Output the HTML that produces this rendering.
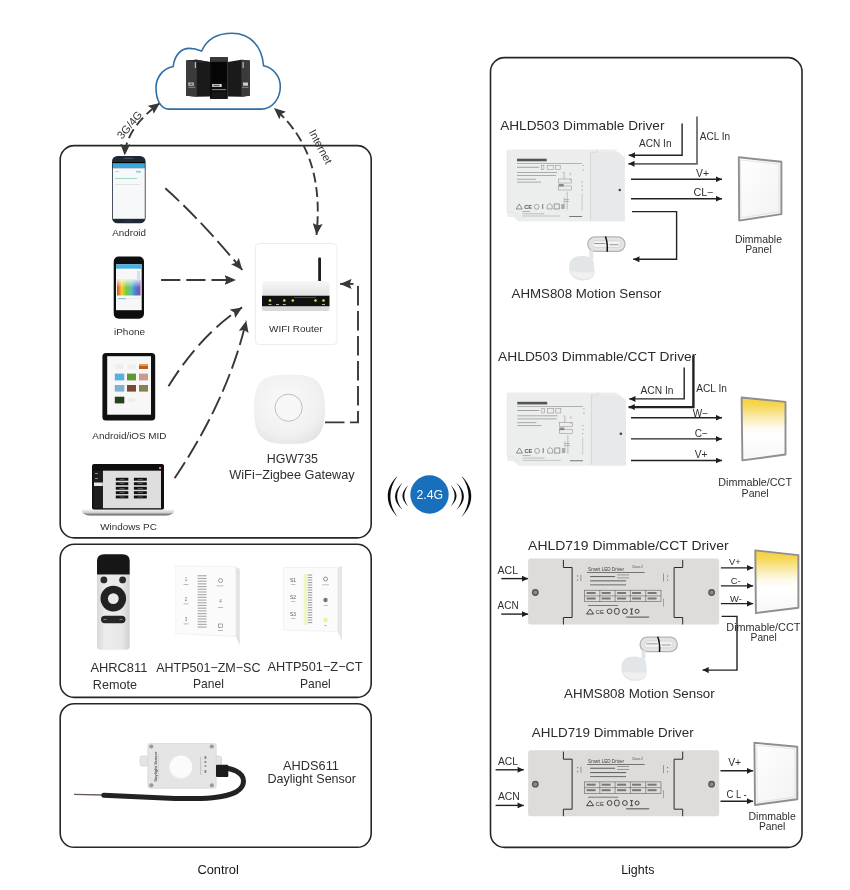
<!DOCTYPE html>
<html><head><meta charset="utf-8">
<style>
html,body{margin:0;padding:0;background:#fff;width:850px;height:890px;overflow:hidden}
#wrap{will-change:transform}
svg{display:block;font-family:"Liberation Sans",sans-serif}
</style></head><body><div id="wrap">
<svg width="850" height="890" viewBox="0 0 850 890">
<defs>
  <marker id="ah" markerUnits="userSpaceOnUse" markerWidth="11.5" markerHeight="10" refX="11.5" refY="5" orient="auto-start-reverse" viewBox="0 0 11.5 10">
    <path d="M0,0 L11.5,5 L0,10 L2,5 Z" fill="#383838"/>
  </marker>
  <marker id="as" markerUnits="userSpaceOnUse" markerWidth="6.4" markerHeight="6" refX="6.4" refY="3" orient="auto" viewBox="0 0 6.4 6">
    <path d="M0,0 L6.4,3 L0,6 L0.4,3 Z" fill="#1e1e1e"/>
  </marker>
</defs>

<!-- BOXES -->
<g fill="none" stroke="#262626" stroke-width="1.6">
  <rect x="60.2" y="145.6" width="311" height="392.3" rx="14"/>
  <rect x="60.2" y="544.2" width="311" height="153.2" rx="14"/>
  <rect x="60.2" y="703.8" width="311" height="143.5" rx="14"/>
  <rect x="490.5" y="57.6" width="311.5" height="789.8" rx="14"/>
</g>

<!-- SECTION LABELS -->
<g fill="#151515" font-size="13.4">
  <text x="197.4" y="873.5" textLength="41.4" lengthAdjust="spacingAndGlyphs">Control</text>
  <text x="621.2" y="873.5" textLength="33.2" lengthAdjust="spacingAndGlyphs">Lights</text>
</g>

<!-- LEFT TEXT -->
<g fill="#2e2e2e" font-size="9.4">
  <text x="112.2" y="235.8" textLength="33.8" lengthAdjust="spacingAndGlyphs">Android</text>
  <text x="114" y="335.3" textLength="31" lengthAdjust="spacingAndGlyphs">iPhone</text>
  <text x="92.3" y="439" textLength="74.2" lengthAdjust="spacingAndGlyphs">Android/iOS MID</text>
  <text x="100.2" y="529.5" textLength="56.6" lengthAdjust="spacingAndGlyphs">Windows PC</text>
  <text x="269" y="331.7" textLength="53.6" lengthAdjust="spacingAndGlyphs">WIFI Router</text>
</g>
<g fill="#2e2e2e" font-size="12.6">
  <text x="266.8" y="462.7" textLength="51.2" lengthAdjust="spacingAndGlyphs">HGW735</text>
  <text x="229.3" y="479.3" textLength="125.4" lengthAdjust="spacingAndGlyphs">WiFi−Zigbee Gateway</text>
  <text x="90.4" y="671.6" textLength="57" lengthAdjust="spacingAndGlyphs">AHRC811</text>
  <text x="92.8" y="688.6" textLength="44.1" lengthAdjust="spacingAndGlyphs">Remote</text>
  <text x="156.2" y="671.6" textLength="104.3" lengthAdjust="spacingAndGlyphs">AHTP501−ZM−SC</text>
  <text x="193" y="688" textLength="31" lengthAdjust="spacingAndGlyphs">Panel</text>
  <text x="267.6" y="671.4" textLength="95" lengthAdjust="spacingAndGlyphs">AHTP501−Z−CT</text>
  <text x="300" y="687.6" textLength="30.8" lengthAdjust="spacingAndGlyphs">Panel</text>
  <text x="283" y="769.7" textLength="56" lengthAdjust="spacingAndGlyphs">AHDS611</text>
  <text x="267.5" y="783.4" textLength="88.5" lengthAdjust="spacingAndGlyphs">Daylight Sensor</text>
</g>

<!-- RIGHT TEXT -->
<g fill="#2b2b2b" font-size="13">
  <text x="500.2" y="129.8" textLength="164.3" lengthAdjust="spacingAndGlyphs">AHLD503 Dimmable Driver</text>
  <text x="511.6" y="297.7" textLength="149.8" lengthAdjust="spacingAndGlyphs">AHMS808 Motion Sensor</text>
  <text x="498.1" y="360.7" textLength="198.2" lengthAdjust="spacingAndGlyphs">AHLD503 Dimmable/CCT Driver</text>
  <text x="528.1" y="549.8" textLength="200.5" lengthAdjust="spacingAndGlyphs">AHLD719 Dimmable/CCT Driver</text>
  <text x="564.1" y="698.4" textLength="150.6" lengthAdjust="spacingAndGlyphs">AHMS808 Motion Sensor</text>
  <text x="531.8" y="737" textLength="162" lengthAdjust="spacingAndGlyphs">AHLD719 Dimmable Driver</text>
</g>
<g fill="#2e2e2e" font-size="10">
  <text x="639" y="146.7" textLength="32.5" lengthAdjust="spacingAndGlyphs">ACN In</text>
  <text x="699.8" y="139.6" textLength="30.3" lengthAdjust="spacingAndGlyphs">ACL In</text>
  <text x="696" y="177.2" textLength="13" lengthAdjust="spacingAndGlyphs">V+</text>
  <text x="693.4" y="195.8" textLength="20.1" lengthAdjust="spacingAndGlyphs">CL−</text>
  <text x="734.9" y="242.5" textLength="47.1" lengthAdjust="spacingAndGlyphs">Dimmable</text>
  <text x="745.2" y="252.7" textLength="26.5" lengthAdjust="spacingAndGlyphs">Panel</text>

  <text x="640.5" y="393.7" textLength="32.9" lengthAdjust="spacingAndGlyphs">ACN In</text>
  <text x="696.2" y="391.9" textLength="30.8" lengthAdjust="spacingAndGlyphs">ACL In</text>
  <text x="692.7" y="417" textLength="15.3" lengthAdjust="spacingAndGlyphs">W−</text>
  <text x="694.8" y="436.8" textLength="13.2" lengthAdjust="spacingAndGlyphs">C−</text>
  <text x="694.8" y="458" textLength="12.7" lengthAdjust="spacingAndGlyphs">V+</text>
  <text x="718.3" y="486.4" textLength="73.7" lengthAdjust="spacingAndGlyphs">Dimmable/CCT</text>
  <text x="741.6" y="496.6" textLength="27.1" lengthAdjust="spacingAndGlyphs">Panel</text>

  <text x="729.1" y="565.4" font-size="8.8" textLength="11.7" lengthAdjust="spacingAndGlyphs">V+</text>
  <text x="730.7" y="584" font-size="8.8" textLength="9.8" lengthAdjust="spacingAndGlyphs">C-</text>
  <text x="730" y="601.6" font-size="8.8" textLength="11.8" lengthAdjust="spacingAndGlyphs">W-</text>
  <text x="726.3" y="631.3" textLength="74.1" lengthAdjust="spacingAndGlyphs">Dimmable/CCT</text>
  <text x="750.6" y="641.4" textLength="26.2" lengthAdjust="spacingAndGlyphs">Panel</text>

  <text x="728.2" y="766.2" textLength="13" lengthAdjust="spacingAndGlyphs">V+</text>
  <text x="726.5" y="797.6" textLength="20.1" lengthAdjust="spacingAndGlyphs">C L -</text>
  <text x="748.5" y="820.2" textLength="47.3" lengthAdjust="spacingAndGlyphs">Dimmable</text>
  <text x="758.9" y="830.3" textLength="26.5" lengthAdjust="spacingAndGlyphs">Panel</text>
</g>
<g fill="#2e2e2e" font-size="11">
  <text x="497.6" y="574" textLength="20.5" lengthAdjust="spacingAndGlyphs">ACL</text>
  <text x="497.6" y="609.2" textLength="21" lengthAdjust="spacingAndGlyphs">ACN</text>
  <text x="497.9" y="764.7" textLength="20" lengthAdjust="spacingAndGlyphs">ACL</text>
  <text x="497.9" y="800" textLength="22" lengthAdjust="spacingAndGlyphs">ACN</text>
</g>

<!-- RIGHT DEVICES -->
<defs>
  <g id="drvA">
    <!-- body: origin top-left 507.2,149.5 -->
    <path d="M0 0.5 Q0 0 0.8 0 H112 L117.5 3 V71.9 H11 L6 67.4 H0 Z" fill="#eceded"/>
    <path d="M0 0.5 V62.5 H5.8 L10.8 67.4" fill="none" stroke="#dcdcdc" stroke-width="0.6"/>
    <rect x="83.7" y="3" width="33.8" height="68.5" fill="#e8e9ea"/>
    <path d="M83.4 2.7 V71" fill="none" stroke="#c9cacc" stroke-width="0.6"/>
    <path d="M83.4 2.7 H90 V0" fill="none" stroke="#d0d0d0" stroke-width="0.6"/>
    <polygon points="106.3,0 117.5,0 117.5,8 112,3" fill="#fff"/>
    <circle cx="112.6" cy="40.5" r="1.3" fill="#444"/>
    <rect x="9.8" y="9.2" width="29.7" height="2.6" fill="#555"/>
    <rect x="9.8" y="13.8" width="65" height="0.5" fill="#777"/>
    <g fill="#9a9a9a">
      <rect x="9.8" y="17.3" width="22" height="0.9"/>
      <rect x="9.8" y="22.6" width="40" height="0.8"/>
      <rect x="9.8" y="25.6" width="39" height="0.8"/>
      <rect x="9.8" y="29.3" width="19" height="0.8"/>
      <rect x="9.8" y="32.2" width="24" height="0.8"/>
    </g>
    <g fill="none" stroke="#8a8a8a" stroke-width="0.5">
      <rect x="34.2" y="16" width="2.5" height="4.2"/>
      <rect x="40" y="16" width="6" height="4.2"/>
      <rect x="48" y="16" width="5" height="4.2"/>
      <rect x="51.5" y="29.5" width="13" height="4"/>
      <rect x="51.5" y="36.5" width="13" height="4"/>
      <path d="M55.5 23 H57 V30 M63 23 V26 M63 29 V31"/>
      <path d="M57 48 V54 M57 50 H62 M57 52 H62 M60 42 V60"/>
    </g>
    <rect x="51.5" y="34.5" width="5" height="2.5" fill="#888"/>
    <g fill="#777">
      <path d="M9 59.5 L12 54.5 L15 59.5 Z" fill="none" stroke="#666" stroke-width="0.7"/>
      <text x="17" y="59.8" font-size="5.6" font-weight="bold" fill="#555">CE</text>
      <circle cx="29.5" cy="57.3" r="2.4" fill="none" stroke="#777" stroke-width="0.6"/>
      <rect x="35" y="54.5" width="1" height="5"/>
      <path d="M40 59.5 V56 L42.5 54 L45 56 V59.5 Z" fill="none" stroke="#777" stroke-width="0.6"/>
      <rect x="47" y="54.5" width="5" height="5" fill="none" stroke="#777" stroke-width="0.7"/>
      <rect x="54" y="54.5" width="3.5" height="5" fill="#aaa"/>
      <rect x="15" y="64" width="22" height="0.7" fill="#aaa"/>
      <rect x="15" y="66.2" width="38" height="0.6" fill="#aaa"/>
      <rect x="62" y="66.5" width="13" height="1" fill="#777"/>
      <rect x="15" y="61.7" width="8" height="0.7" fill="#999"/>
    </g>
    <g fill="#888">
      <rect x="75.5" y="15.5" width="0.9" height="1"/><rect x="75.5" y="20" width="0.9" height="1"/>
      <rect x="74.5" y="32" width="0.9" height="1"/><rect x="74.5" y="36" width="0.9" height="1"/><rect x="74.5" y="40" width="0.9" height="1"/>
      <rect x="74.6" y="44" width="0.5" height="17" fill="#aaa"/>
    </g>
  </g>
  <g id="drvB">
    <!-- origin top-left 528.1,558.5 ; w 191 h 66 -->
    <rect x="0" y="0" width="191.1" height="66" rx="2.5" fill="#dddcd8"/>
    <g fill="none" stroke="#2a2a2a" stroke-width="1">
      <path d="M35.3 1.4 V9 H44 V59 H35.3 V66"/>
      <path d="M154.6 1.4 V9 H146 V59 H154.6 V66"/>
    </g>
    <circle cx="7.2" cy="34" r="3.4" fill="#555"/>
    <circle cx="7.2" cy="34" r="2" fill="#8a8a8a"/>
    <circle cx="183.5" cy="34" r="3.4" fill="#555"/>
    <circle cx="183.5" cy="34" r="2" fill="#8a8a8a"/>
    <g fill="#555">
      <text x="60" y="12.5" font-size="4.6" fill="#444">Smart LED Driver</text>
      <rect x="59" y="13.8" width="57.5" height="0.7" fill="#444"/>
      <text x="104" y="9.5" font-size="3.3" fill="#555">Class 2</text>
      <rect x="62" y="17.5" width="25" height="1.1" fill="#666"/>
      <rect x="89" y="16" width="12" height="0.8" fill="#888"/>
      <rect x="89" y="19" width="12" height="0.8" fill="#888"/>
      <rect x="62" y="21.8" width="36" height="1.1" fill="#666"/>
      <rect x="62" y="25.8" width="36" height="1.1" fill="#777"/>
      <rect x="49" y="17" width="1" height="1" /><rect x="49" y="21" width="1" height="1"/>
      <rect x="52.5" y="16.5" width="0.7" height="6" fill="#777"/>
      <rect x="139" y="17" width="1" height="1"/><rect x="139" y="21" width="1" height="1"/>
      <rect x="135" y="15" width="0.7" height="8" fill="#777"/>
      <rect x="135" y="40" width="0.7" height="8" fill="#888"/>
    </g>
    <g fill="none" stroke="#555" stroke-width="0.55">
      <rect x="56.4" y="31.7" width="76.5" height="11.4"/>
      <path d="M56.4 37.4 H132.9 M71.7 31.7 V43.1 M87 31.7 V43.1 M102.3 31.7 V43.1 M117.6 31.7 V43.1"/>
    </g>
    <g fill="#777">
      <rect x="58.5" y="33.5" width="9" height="2"/><rect x="73.5" y="33.5" width="9" height="2"/><rect x="89" y="33.5" width="9" height="2"/><rect x="104" y="33.5" width="9" height="2"/><rect x="119.5" y="33.5" width="9" height="2"/>
      <rect x="58.5" y="39" width="9" height="2"/><rect x="73.5" y="39" width="9" height="2"/><rect x="89" y="39" width="9" height="2"/><rect x="104" y="39" width="9" height="2"/><rect x="119.5" y="39" width="9" height="2"/>
      <rect x="60" y="46.5" width="30" height="1"/>
    </g>
    <g fill="none" stroke="#333" stroke-width="0.9">
      <path d="M58.5 55.5 L62 50.5 L65.5 55.5 Z"/>
      <circle cx="81.5" cy="52.8" r="2.4"/>
      <rect x="86.5" y="50" width="4.5" height="5.6" rx="1.5"/>
      <circle cx="96.8" cy="52.8" r="2.4"/>
      <path d="M102 50.5 H105 M103.5 50.5 V55.5 M102 55.5 H105"/>
      <circle cx="109" cy="52.8" r="2"/>
    </g>
    <text x="67.5" y="55.6" font-size="6" fill="#333">CE</text>
    <rect x="98" y="58" width="23" height="1.2" fill="#666"/>
  </g>
  <linearGradient id="ledY" x1="0" x2="0" y1="0" y2="1">
    <stop offset="0" stop-color="#f4d040"/>
    <stop offset="0.12" stop-color="#f6d751"/>
    <stop offset="0.32" stop-color="#faebb0"/>
    <stop offset="0.48" stop-color="#fefaee"/>
    <stop offset="0.6" stop-color="#ffffff"/>
    <stop offset="1" stop-color="#f7f7f7"/>
  </linearGradient>
  <linearGradient id="ledW" x1="0" x2="1" y1="0" y2="1">
    <stop offset="0" stop-color="#ffffff"/>
    <stop offset="1" stop-color="#f2f2f2"/>
  </linearGradient>
  <g id="motion">
    <rect x="-18.6" y="-7.2" width="37.2" height="14.4" rx="7.2" fill="#e4e4e4" stroke="#b4b4b4" stroke-width="1.3"/>
    <rect x="-14.5" y="-3.4" width="29" height="6.8" rx="3.4" fill="#f2f2f2" stroke="#cfcfcf" stroke-width="0.7"/>
    <path d="M-12.5 -0.6 H-1 M3 0.6 H12" stroke="#9a9a9a" stroke-width="1"/>
    <path d="M-1 -7.6 C0.5 -4 1.2 2 0.8 7.6" stroke="#111" stroke-width="1.5" fill="none"/>
    <path d="M-15 6 C-16 9 -14 11.5 -15.5 14" stroke="#e2e5e7" stroke-width="4" fill="none"/>
    <path d="M-37.4 23 C-37.4 15 -32 12 -25 12 C-17 12 -12.5 14.5 -12.5 19 C-12.5 22 -11.8 24 -11.8 28 C-11.8 34 -17 36.4 -24 36.4 C-32 36.4 -37.4 31 -37.4 23 Z" fill="#e3e6e8"/>
    <path d="M-36 27 C-34 33 -28 35 -22 35 C-16 35 -13 32 -12.5 28 C-20 29 -30 28 -36 27 Z" fill="#eef0f2"/>
  </g>
</defs>
<use href="#drvA" transform="translate(507.2 149.5)"/>
<use href="#drvA" transform="translate(507.4 392.4) scale(1.008 1.02)"/>
<use href="#drvB" transform="translate(528.1 558.5)"/>
<use href="#drvB" transform="translate(528.1 750.2)"/>
<use href="#motion" transform="translate(606.4 244.1)"/>
<use href="#motion" transform="translate(658.7 644.4)"/>

<!-- LED PANELS -->
<g stroke="#8f8f8f" stroke-width="1.9" stroke-linejoin="round">
  <polygon points="738.8,157.3 781.4,161.8 781.4,214.1 739.2,220.6" fill="url(#ledW)"/>
  <polygon points="741.6,397.5 785.5,401.9 785.5,454.5 742.4,460.4" fill="url(#ledY)"/>
  <polygon points="755.3,550.4 798.4,555.1 798.4,607.7 755.9,613.1" fill="url(#ledY)"/>
  <polygon points="754.4,742.7 797.3,746.8 797.3,799.2 755,805" fill="url(#ledW)"/>
</g>
<g fill="none" stroke="#dedede" stroke-width="0.8">
  <polygon points="740.5,160 779,164 779,211.8 741,217.8"/>
  <polygon points="756.8,745.3 795,749 795,797 757.4,802.3"/>
</g>

<!-- 2.4G -->
<g>
  <circle cx="429.5" cy="494.5" r="19.2" fill="#1870bd"/>
  <text x="429.85" y="499" font-size="12.6" fill="#f4faff" text-anchor="middle" textLength="26.7" lengthAdjust="spacingAndGlyphs">2.4G</text>
  <g fill="#0a0a0a">
    <path d="M397.5 476 C384.5 488 384.5 504 397.5 517 C388 504 388 489 397.5 476 Z"/>
    <path d="M402.8 482.4 C392.5 492 392.5 501 402.8 510 C395.3 501 395.3 492 402.8 482.4 Z"/>
    <path d="M408.3 485 C400.5 493 400.5 499 408.3 506.4 C403 499 403 493 408.3 485 Z"/>
    <path d="M461.5 476 C474.5 488 474.5 504 461.5 517 C471 504 471 489 461.5 476 Z"/>
    <path d="M456.2 482.4 C466.5 492 466.5 501 456.2 510 C463.7 501 463.7 492 456.2 482.4 Z"/>
    <path d="M450.7 485 C458.5 493 458.5 499 450.7 506.4 C456 499 456 493 450.7 485 Z"/>
  </g>
</g>

<!-- RIGHT ARROWS -->
<g fill="none" stroke="#222" stroke-width="1.4" marker-end="url(#as)">
  <path d="M682.1 123.4 V155.3 H628.7"/>
  <path d="M697 116.4 V163.8 H628.3" stroke="#666" stroke-width="1.7"/>
  <path d="M631 179.3 H722"/>
  <path d="M631 198.7 H722"/>
  <path d="M632 211.6 H676.6 V259.3 H633.2"/>

  <path d="M684.2 367.6 V398.9 H629.2"/>
  <path d="M693.4 355.6 V407.1 H628.5" stroke-width="2.4"/>
  <path d="M631 417.7 H722"/>
  <path d="M631 438.9 H722"/>
  <path d="M631 460.5 H722"/>

  <path d="M501.3 578.6 H528.1"/>
  <path d="M501.3 614.1 H528.1"/>
  <path d="M720.9 567.9 H753.2"/>
  <path d="M720.9 585.9 H753.2"/>
  <path d="M720.9 603.6 H753.2"/>
  <path d="M721.6 616.4 H737 V670.1 H702.5"/>

  <path d="M495.6 769.8 H523.8"/>
  <path d="M495.6 805.4 H523.8"/>
  <path d="M720.5 770.8 H753.1"/>
  <path d="M720.5 801.2 H753.1"/>
</g>

<!-- LEFT DASHED ARROWS -->
<g fill="none" stroke="#383838" stroke-width="1.9">
  <path d="M124.7 155.4 Q126 128 160 103" stroke-dasharray="10 5" stroke-dashoffset="-3" marker-start="url(#ah)" marker-end="url(#ah)"/>
  <path d="M274 108 C315 144 321 190 316.5 234.9" stroke-dasharray="10 4.6" stroke-dashoffset="-4" marker-start="url(#ah)" marker-end="url(#ah)"/>
  <path d="M165.3 188.3 Q201.2 220.3 242.3 270" stroke-dasharray="19 5.8" marker-end="url(#ah)"/>
  <path d="M161.1 280 H236" stroke-dasharray="19.2 6" marker-end="url(#ah)"/>
  <path d="M168.5 386.3 Q200 335 242.1 307.4" stroke-dasharray="18.8 6.6" marker-end="url(#ah)"/>
  <path d="M174.6 478.3 Q228.1 398.5 246.3 320.7" stroke-dasharray="19 5.8" marker-end="url(#ah)"/>
  <path d="M325 422.4 H358 V285.3" stroke-dasharray="19.5 5.5" stroke-dashoffset="0"/>
  <path d="M353.5 283.9 H340.1" marker-end="url(#ah)"/>
</g>
<g fill="#333" font-size="11">
  <text transform="translate(132.4 127.4) rotate(-50)" text-anchor="middle">3G/4G</text>
  <text transform="translate(317.2 148.5) rotate(62)" text-anchor="middle">Internet</text>
</g>

<!-- DEVICES -->
<g id="devices">
<!-- CLOUD -->
<path d="M169 109.1 C161 109.1 156 100 156 88 C156 77 163 68.5 173.2 66.5 C174.5 55 181 48.4 189.5 48.4 C195 48.4 199 50 201.6 51 C207 39 218 33.2 232 33.2 C250 33.2 262 46 263.6 65.8 C273.5 68 280.3 76.5 280.3 86.5 C280.3 99 272 109.1 261 109.1 Z" fill="#fff" stroke="#2f6ea5" stroke-width="1.6"/>
<!-- SERVERS -->
<g>
  <!-- left tower -->
  <polygon points="186.2,60.5 196.8,59.8 210,62 210,96.5 196.8,96.8 186.2,95.8" fill="#1a1a1a"/>
  <polygon points="186.2,60.5 196.8,59.8 196.8,96.8 186.2,95.8" fill="#3b3b3b"/>
  <polygon points="186.2,60.5 196.8,59.8 210,62 199,62.6" fill="#2a2a2a"/>
  <rect x="194.8" y="62" width="1.2" height="6" fill="#bbb"/>
  <rect x="188.3" y="82.5" width="5.5" height="3.2" fill="#ccc"/>
  <rect x="189.5" y="83.5" width="3.2" height="1.2" fill="#444"/>
  <rect x="188.3" y="86.8" width="7" height="1" fill="#888"/>
  <!-- right tower -->
  <polygon points="227.8,62 241.3,59.8 249.8,60.5 249.8,95.8 241.3,96.8 227.8,96.5" fill="#1a1a1a"/>
  <polygon points="241.3,59.8 249.8,60.5 249.8,95.8 241.3,96.8" fill="#3b3b3b"/>
  <rect x="242.5" y="62" width="1.2" height="6" fill="#bbb"/>
  <rect x="243" y="82.5" width="5" height="3.2" fill="#ccc"/>
  <rect x="242" y="86.8" width="6.5" height="1" fill="#888"/>
  <!-- middle tower -->
  <rect x="210" y="57.2" width="17.8" height="41.7" fill="#0c0c0c"/>
  <rect x="210.3" y="57.4" width="17.2" height="4.4" fill="#3a3a3a"/>
  <rect x="211.5" y="62.5" width="15" height="20" fill="#050505"/>
  <rect x="212.2" y="84" width="9.5" height="3" fill="#d5d5d5"/>
  <rect x="213.5" y="84.8" width="6" height="1.4" fill="#555"/>
  <rect x="212" y="89" width="14" height="1.2" fill="#777"/>
  <rect x="211.6" y="92" width="14.6" height="6.9" fill="#161616"/>
</g>

<!-- ANDROID -->
<g>
  <rect x="112" y="156" width="33.6" height="67.3" rx="5.5" fill="#1d2a36"/>
  <rect x="112.8" y="162" width="32" height="1.2" fill="#050505"/>
  <rect x="112.8" y="163.2" width="32" height="5" fill="#3ba6dd"/>
  <rect x="112.8" y="168.2" width="32" height="50.6" fill="#f6f8fa"/>
  <rect x="115" y="171" width="4" height="1" fill="#ccd"/>
  <rect x="136" y="170.8" width="5" height="1.8" fill="#8fd0e8"/>
  <rect x="115" y="178" width="22" height="1" fill="#9fd8c8"/>
  <rect x="115" y="184" width="25" height="0.8" fill="#ddd"/>
  <rect x="124" y="157.8" width="9" height="1" fill="#556"/>
  <rect x="125" y="220.5" width="8" height="1" fill="#334"/>
</g>
<!-- IPHONE -->
<g>
  <rect x="113.7" y="256.6" width="30.3" height="62.2" rx="5" fill="#0e0e0e"/>
  <rect x="116" y="264.2" width="25.7" height="46" fill="#f7f7f7"/>
  <rect x="116" y="264.2" width="25.7" height="4.5" fill="#4aaede"/>
  <defs>
    <linearGradient id="rb" x1="0" x2="1" y1="0" y2="0">
      <stop offset="0" stop-color="#e0402a"/>
      <stop offset="0.2" stop-color="#f6d22a"/>
      <stop offset="0.4" stop-color="#7cc640"/>
      <stop offset="0.6" stop-color="#5ac0b0"/>
      <stop offset="0.8" stop-color="#4a7ad8"/>
      <stop offset="1" stop-color="#8a4aa8"/>
    </linearGradient>
    <linearGradient id="rbw" x1="0" x2="0" y1="0" y2="1">
      <stop offset="0" stop-color="#fff" stop-opacity="0.75"/>
      <stop offset="1" stop-color="#fff" stop-opacity="0"/>
    </linearGradient>
  </defs>
  <rect x="117" y="279.8" width="23.5" height="15.7" fill="url(#rb)"/>
  <rect x="117" y="279.8" width="23.5" height="8" fill="url(#rbw)"/>
  <rect x="137" y="271" width="3" height="8" fill="#cfe3ef"/>
  <rect x="118" y="298" width="8" height="1.2" fill="#8cc0dd"/>
  <rect x="127" y="298.3" width="13" height="0.6" fill="#ddd"/>
</g>
<!-- IPAD -->
<g>
  <rect x="102.4" y="353" width="52.8" height="67.5" rx="3.5" fill="#111"/>
  <rect x="107.2" y="356.2" width="43.8" height="58.5" fill="#f7f7f7"/>
  <rect x="139" y="364" width="9" height="5" fill="#c05a28"/>
  <rect x="139" y="364" width="9" height="2" fill="#e7a030"/>
  <rect x="115.5" y="364.5" width="8" height="4.5" fill="#eee"/>
  <rect x="127.5" y="364.5" width="8" height="4.5" fill="#eee"/>
  <rect x="114.8" y="373.6" width="9.5" height="6.8" fill="#58b0e0"/>
  <rect x="127" y="373.6" width="9" height="6.8" fill="#5a9a30"/>
  <rect x="139" y="373.6" width="9" height="6.8" fill="#c89a90"/>
  <rect x="114.8" y="385" width="9.5" height="6.6" fill="#80b0d8"/>
  <rect x="127" y="385" width="9" height="6.6" fill="#7a4a30"/>
  <rect x="139" y="385" width="9" height="6.6" fill="#8a8050"/>
  <rect x="114.8" y="396.7" width="9.5" height="6.7" fill="#284020"/>
  <rect x="128" y="398" width="7" height="4" fill="#eee"/>
</g>
<!-- LAPTOP -->
<g>
  <rect x="92" y="464" width="72" height="45.8" rx="2" fill="#0e0e0e"/>
  <rect x="102.8" y="470.7" width="58.2" height="37.5" fill="#dedede"/>
  <rect x="93.5" y="470.7" width="9.3" height="37.5" fill="#1c1c1c"/>
  <rect x="94" y="482.5" width="8.8" height="3.5" fill="#e8e8e8"/>
  <rect x="95" y="473" width="3" height="1" fill="#888"/>
  <rect x="95" y="478" width="3" height="1" fill="#888"/>
  <rect x="159" y="467" width="2" height="2" fill="#d77"/>
  <g fill="#111">
    <rect x="115.8" y="477.8" width="12.5" height="2.9"/><rect x="133.9" y="477.8" width="12.9" height="2.9"/>
    <rect x="115.8" y="482.3" width="12.5" height="2.9"/><rect x="133.9" y="482.3" width="12.9" height="2.9"/>
    <rect x="115.8" y="486.8" width="12.5" height="2.9"/><rect x="133.9" y="486.8" width="12.9" height="2.9"/>
    <rect x="115.8" y="491.2" width="12.5" height="2.9"/><rect x="133.9" y="491.2" width="12.9" height="2.9"/>
    <rect x="115.8" y="495.5" width="12.5" height="2.9"/><rect x="133.9" y="495.5" width="12.9" height="2.9"/>
  </g>
  <g fill="#9a9a9a">
    <rect x="119.5" y="479.0" width="5" height="0.5"/><rect x="137.8" y="479.0" width="5" height="0.5"/>
    <rect x="119.5" y="483.5" width="5" height="0.5"/><rect x="137.8" y="483.5" width="5" height="0.5"/>
    <rect x="119.5" y="488.0" width="5" height="0.5"/><rect x="137.8" y="488.0" width="5" height="0.5"/>
    <rect x="119.5" y="492.4" width="5" height="0.5"/><rect x="137.8" y="492.4" width="5" height="0.5"/>
    <rect x="119.5" y="496.7" width="5" height="0.5"/><rect x="137.8" y="496.7" width="5" height="0.5"/>
  </g>
  <defs>
    <linearGradient id="lb" x1="0" x2="0" y1="0" y2="1">
      <stop offset="0" stop-color="#f0f0f0"/>
      <stop offset="0.5" stop-color="#cfcfcf"/>
      <stop offset="1" stop-color="#5a5a5a"/>
    </linearGradient>
  </defs>
  <path d="M82 509.8 H174 V512 Q172 515.4 166 515.4 H90 Q84 515.4 82 512 Z" fill="url(#lb)"/>
</g>
<!-- ROUTER -->
<g>
  <rect x="255.3" y="243.5" width="81.7" height="101.2" rx="4" fill="none" stroke="#ececec" stroke-width="1"/>
  <rect x="318.2" y="257.5" width="2.8" height="24" rx="1" fill="#1e1e1e"/>
  <defs>
    <linearGradient id="rt" x1="0" x2="0" y1="0" y2="1">
      <stop offset="0" stop-color="#f7f7f7"/>
      <stop offset="1" stop-color="#e2e2e2"/>
    </linearGradient>
  </defs>
  <path d="M262.5 283 Q262.5 281 265 281 H327 Q329.5 281 329.5 283 V295.7 H262.5 Z" fill="url(#rt)"/>
  <rect x="262" y="295.7" width="67.5" height="10.8" fill="#111"/>
  <path d="M262 306.5 H329.5 V309 Q329.5 311 327 311 H264.5 Q262 311 262 309 Z" fill="#d8d8d8"/>
  <g fill="#e9e03a">
    <circle cx="270" cy="300.5" r="1.3"/><circle cx="284.3" cy="300.5" r="1.3"/><circle cx="292.8" cy="300.5" r="1.3"/>
    <circle cx="315.5" cy="300.5" r="1.3"/><circle cx="323.5" cy="300.5" r="1.3"/>
  </g>
  <g fill="#ddd">
    <rect x="268.5" y="304" width="3" height="0.8"/><rect x="276" y="304" width="3" height="0.8"/><rect x="282.8" y="304" width="3" height="0.8"/><rect x="322" y="304" width="3" height="0.8"/>
  </g>
  <rect x="294" y="297" width="22" height="0.6" fill="#666"/>
</g>
<!-- GATEWAY -->
<g>
  <defs>
    <radialGradient id="gw" cx="0.45" cy="0.4" r="0.7">
      <stop offset="0" stop-color="#fafafa"/>
      <stop offset="0.7" stop-color="#f0f0f0"/>
      <stop offset="1" stop-color="#e0e0e0"/>
    </radialGradient>
  </defs>
  <path d="M289 374.5 C312 374.5 325 378 325 409 C325 440 312 444 289 444 C266 444 253.8 440 253.8 409 C253.8 378 266 374.5 289 374.5 Z" fill="url(#gw)"/>
  <circle cx="288.6" cy="407.7" r="13.6" fill="#f7f7f7" stroke="#b8b8b8" stroke-width="0.9"/>
</g>

<!-- REMOTE -->
<g>
  <defs>
    <linearGradient id="rmb" x1="0" x2="1" y1="0" y2="0">
      <stop offset="0" stop-color="#d8d8d8"/>
      <stop offset="0.25" stop-color="#ececec"/>
      <stop offset="0.75" stop-color="#e8e8e8"/>
      <stop offset="1" stop-color="#d0d0d0"/>
    </linearGradient>
  </defs>
  <path d="M97 574.5 H129.7 V646 Q129.7 649.7 126 649.7 H100.5 Q97 649.7 97 646 Z" fill="url(#rmb)"/>
  <path d="M97 574.5 V561 Q97 554.3 104 554.3 H122.7 Q129.7 554.3 129.7 561 V574.5 Z" fill="#161616"/>
  <circle cx="103.9" cy="579.9" r="3.4" fill="#2a2a2a"/>
  <circle cx="122.6" cy="579.9" r="3.4" fill="#2a2a2a"/>
  <circle cx="113.3" cy="598.6" r="12.8" fill="#222"/>
  <circle cx="113.3" cy="598.6" r="5.4" fill="#eaeaea"/>
  <rect x="101" y="615.8" width="24.5" height="7.4" rx="3.7" fill="#262626"/>
  <rect x="103.5" y="619.2" width="3" height="0.7" fill="#aaa"/>
  <rect x="119.5" y="619.2" width="3" height="0.7" fill="#aaa"/>
</g>
<!-- PANEL 1 -->
<g>
  <polygon points="235.9,567 239.8,569 239.8,645.5 235.9,636.5" fill="#e2e2e2"/>
  <polygon points="175.7,566 235.9,566.5 235.9,636.5 175.7,633.5" fill="#fbfbfb" stroke="#eeeeee" stroke-width="0.8"/>
  <g fill="#a9a9a9">
    <rect x="197.6" y="575.2" width="9" height="1.15"/><rect x="197.6" y="577.9" width="9" height="1.15"/>
    <rect x="197.6" y="580.6" width="9" height="1.15"/><rect x="197.6" y="583.3" width="9" height="1.15"/>
    <rect x="197.6" y="586" width="9" height="1.15"/><rect x="197.6" y="588.7" width="9" height="1.15"/>
    <rect x="197.6" y="591.4" width="9" height="1.15"/><rect x="197.6" y="594.1" width="9" height="1.15"/>
    <rect x="197.6" y="596.8" width="9" height="1.15"/><rect x="197.6" y="599.5" width="9" height="1.15"/>
    <rect x="197.6" y="602.2" width="9" height="1.15"/><rect x="197.6" y="604.9" width="9" height="1.15"/>
    <rect x="197.6" y="607.6" width="9" height="1.15"/><rect x="197.6" y="610.3" width="9" height="1.15"/>
    <rect x="197.6" y="613" width="9" height="1.15"/><rect x="197.6" y="615.7" width="9" height="1.15"/>
    <rect x="197.6" y="618.4" width="9" height="1.15"/><rect x="197.6" y="621.1" width="9" height="1.15"/>
    <rect x="197.6" y="623.8" width="9" height="1.15"/><rect x="197.6" y="626.5" width="9" height="1.15"/>
  </g>
  <g fill="#777" font-size="4.5" text-anchor="middle">
    <text x="186" y="581">1</text><text x="186" y="601">2</text><text x="186" y="621">3</text>
    <text x="220.5" y="603">4</text>
  </g>
  <g fill="#aaa">
    <rect x="183.5" y="584" width="5" height="0.8"/><rect x="183.5" y="603.5" width="5" height="0.8"/><rect x="183.5" y="623.5" width="5" height="0.8"/>
    <rect x="216.5" y="585.5" width="7" height="0.8"/><rect x="218" y="607" width="5" height="0.8"/><rect x="218" y="630" width="5" height="0.8"/>
  </g>
  <circle cx="220.5" cy="580.5" r="2" fill="none" stroke="#777" stroke-width="0.7"/>
  <rect x="218.5" y="624" width="4" height="3.5" fill="none" stroke="#777" stroke-width="0.6"/>
</g>
<!-- PANEL 2 -->
<g>
  <polygon points="337.5,567.5 342,566 342,641 337.5,631.5" fill="#e6e6e6"/>
  <polygon points="283.5,567.4 337.5,567.5 337.5,631.5 283.5,630" fill="#fbfbfb" stroke="#efefef" stroke-width="0.8"/>
  <rect x="303.7" y="574" width="4.3" height="50.7" fill="#f1f3c8"/>
  <g fill="#a0a0a0">
    <rect x="308" y="574.5" width="4.2" height="1.1"/><rect x="308" y="577" width="4.2" height="1.1"/>
    <rect x="308" y="579.5" width="4.2" height="1.1"/><rect x="308" y="582" width="4.2" height="1.1"/>
    <rect x="308" y="584.5" width="4.2" height="1.1"/><rect x="308" y="587" width="4.2" height="1.1"/>
    <rect x="308" y="589.5" width="4.2" height="1.1"/><rect x="308" y="592" width="4.2" height="1.1"/>
    <rect x="308" y="594.5" width="4.2" height="1.1"/><rect x="308" y="597" width="4.2" height="1.1"/>
    <rect x="308" y="599.5" width="4.2" height="1.1"/><rect x="308" y="602" width="4.2" height="1.1"/>
    <rect x="308" y="604.5" width="4.2" height="1.1"/><rect x="308" y="607" width="4.2" height="1.1"/>
    <rect x="308" y="609.5" width="4.2" height="1.1"/><rect x="308" y="612" width="4.2" height="1.1"/>
    <rect x="308" y="614.5" width="4.2" height="1.1"/><rect x="308" y="617" width="4.2" height="1.1"/>
    <rect x="308" y="619.5" width="4.2" height="1.1"/><rect x="308" y="622" width="4.2" height="1.1"/>
  </g>
  <g fill="#555" font-size="4.8" text-anchor="middle">
    <text x="293" y="582">S1</text><text x="293" y="599">S2</text><text x="293" y="616">S3</text>
  </g>
  <circle cx="325.5" cy="579" r="2" fill="none" stroke="#666" stroke-width="0.7"/>
  <circle cx="325.5" cy="600" r="2.2" fill="#777"/>
  <circle cx="325.5" cy="620" r="2.3" fill="#eef0a0"/>
  <g fill="#aaa">
    <rect x="291" y="584" width="4.5" height="0.7"/><rect x="291" y="601" width="4.5" height="0.7"/><rect x="291" y="618" width="4.5" height="0.7"/>
    <rect x="322" y="584.5" width="7" height="0.7"/><rect x="323.5" y="605" width="4.5" height="0.7"/><rect x="324" y="625" width="3" height="0.7"/>
  </g>
</g>
<!-- DAYLIGHT SENSOR -->
<g>
  <path d="M74 794.3 L103.8 795" stroke="#6a5a58" stroke-width="1.3" fill="none"/>
  <path d="M103.8 795.2 L175 798.5 C205 799 225 798 236 792 C246 786 246 776 236 771 C231 768.5 226 768 222 768" stroke="#222" stroke-width="5" fill="none" stroke-linecap="round"/>
  <rect x="140" y="756" width="8" height="10" rx="2" fill="#e4e4e4" stroke="#cfcfcf" stroke-width="0.6"/>
  <rect x="214" y="756" width="7.5" height="10" rx="2" fill="#e4e4e4" stroke="#cfcfcf" stroke-width="0.6"/>
  <rect x="147.8" y="743.6" width="68.4" height="44.6" rx="2" fill="#e5e5e5" stroke="#d4d4d4" stroke-width="0.7"/>
  <rect x="216" y="764.8" width="12.3" height="12.2" rx="1" fill="#1c1c1c"/>
  <circle cx="180.9" cy="767.5" r="11.5" fill="#efefef"/><circle cx="180.9" cy="766.6" r="11.2" fill="#fbfbfb"/>
  <g fill="#9a9a9a">
    <circle cx="151.3" cy="746.5" r="2.1"/><circle cx="211.8" cy="746.5" r="2.1"/>
    <circle cx="151.3" cy="785.3" r="2.1"/><circle cx="211.8" cy="785.3" r="2.1"/>
  </g>
  <text transform="translate(157.2 781.5) rotate(-90)" font-size="4.2" font-weight="bold" fill="#555" textLength="30" lengthAdjust="spacingAndGlyphs">Daylight Sensor</text>
  <rect x="157.9" y="754" width="0.5" height="26" fill="#bbb"/>
  <rect x="200.5" y="757" width="0.6" height="18" fill="#aaa"/>
  <rect x="204.5" y="756" width="1.8" height="3" fill="#888"/><rect x="204.5" y="761" width="1.8" height="2" fill="#888"/>
  <rect x="204.5" y="765" width="1.8" height="2" fill="#999"/><rect x="204.5" y="770" width="1.8" height="3" fill="#888"/>
</g>

</g>

</svg></div>
</body></html>
